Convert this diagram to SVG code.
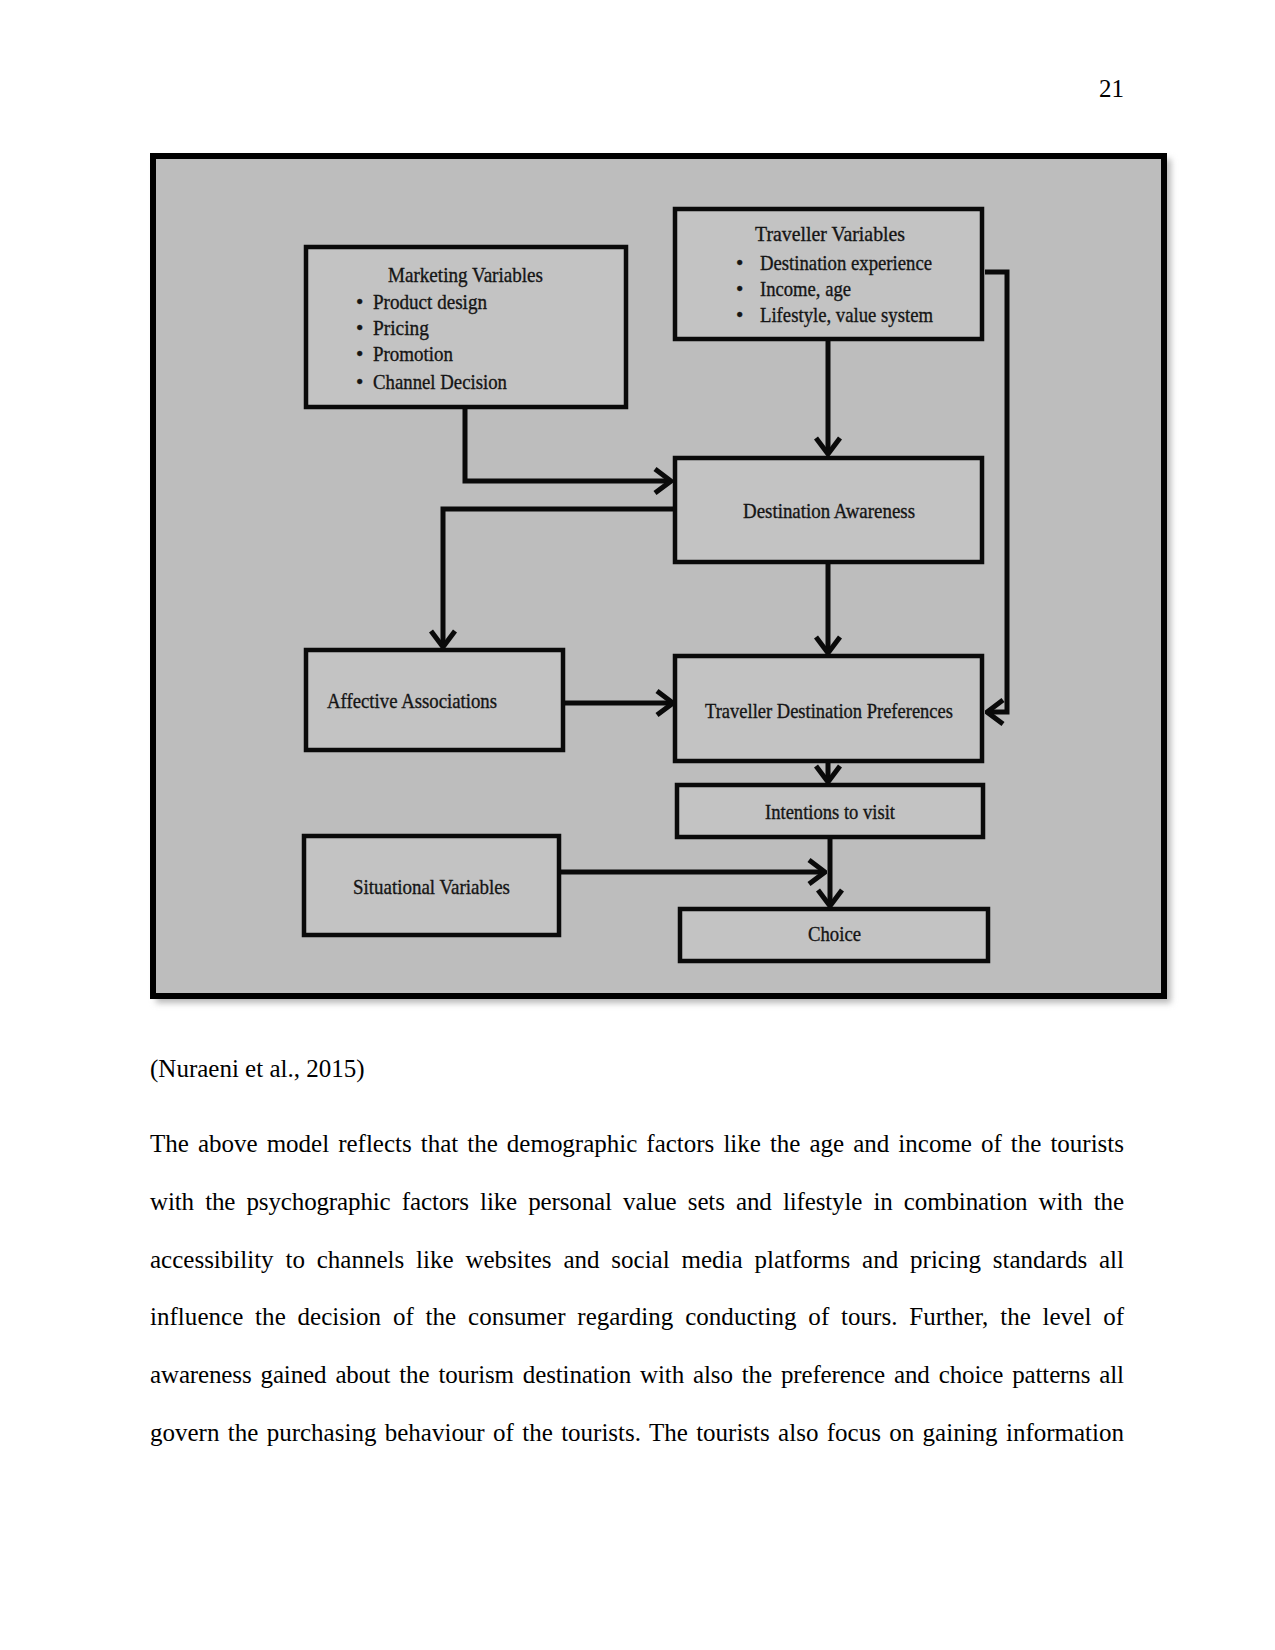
<svg xmlns="http://www.w3.org/2000/svg" width="1275" height="1650" viewBox="0 0 1275 1650">
<style>
.page{font-family:"Liberation Serif","Times New Roman",serif;font-size:25px;fill:#000}
.lbl{font-family:"Liberation Serif","Times New Roman",serif;font-size:21px;fill:#151515;stroke:#151515;stroke-width:0.35}
.box{fill:#c3c3c3;stroke:#0a0a0a;stroke-width:4.5}
.con{fill:none;stroke:#0a0a0a;stroke-width:5}
</style>
<defs>
<marker id="arr" markerUnits="userSpaceOnUse" viewBox="-20 -15 22 30" refX="0" refY="0" markerWidth="22" markerHeight="30" orient="auto">
<path d="M-16,-12 L0,0 L-16,12" fill="none" stroke="#0a0a0a" stroke-width="5"/>
</marker>
<filter id="sh" x="-5%" y="-5%" width="110%" height="110%"><feGaussianBlur stdDeviation="3"/></filter>
</defs>
<rect width="1275" height="1650" fill="#ffffff"/>
<text class="page" x="1124" y="97" text-anchor="end">21</text>
<g id="frame">
<rect x="156" y="159" width="1015" height="844" fill="#b8b8b8" filter="url(#sh)"/>
<rect x="153" y="156" width="1011" height="840" fill="#bdbdbd" stroke="#000" stroke-width="6"/>
</g>
<g id="connectors">
<polyline class="con" points="465,409 465,481 671,481" marker-end="url(#arr)"/>
<line class="con" x1="828" y1="341" x2="828" y2="454" marker-end="url(#arr)"/>
<polyline class="con" points="675,509 443,509 443,647" marker-end="url(#arr)"/>
<line class="con" x1="828" y1="563" x2="828" y2="653" marker-end="url(#arr)"/>
<polyline class="con" points="985,272 1007,272 1007,712 987,712" marker-end="url(#arr)"/>
<line class="con" x1="565" y1="703" x2="673" y2="703" marker-end="url(#arr)"/>
<line class="con" x1="828" y1="763" x2="828" y2="782" marker-end="url(#arr)"/>
<line class="con" x1="830" y1="839" x2="830" y2="906" marker-end="url(#arr)"/>
<line class="con" x1="561" y1="872" x2="825" y2="872" marker-end="url(#arr)"/>
</g>
<g id="marketing">
<rect class="box" x="306" y="247" width="320" height="160"/>
<text class="lbl" x="388" y="282" textLength="155" lengthAdjust="spacingAndGlyphs">Marketing Variables</text>
<text class="lbl" x="356" y="309">•</text><text class="lbl" x="373" y="309" textLength="114" lengthAdjust="spacingAndGlyphs">Product design</text>
<text class="lbl" x="356" y="335">•</text><text class="lbl" x="373" y="335" textLength="56" lengthAdjust="spacingAndGlyphs">Pricing</text>
<text class="lbl" x="356" y="361">•</text><text class="lbl" x="373" y="361" textLength="80" lengthAdjust="spacingAndGlyphs">Promotion</text>
<text class="lbl" x="356" y="389">•</text><text class="lbl" x="373" y="389" textLength="134" lengthAdjust="spacingAndGlyphs">Channel Decision</text>
</g>
<g id="traveller">
<rect class="box" x="675" y="209" width="307" height="130"/>
<text class="lbl" x="755" y="241" textLength="150" lengthAdjust="spacingAndGlyphs">Traveller  Variables</text>
<text class="lbl" x="736" y="270">•</text><text class="lbl" x="760" y="270" textLength="172" lengthAdjust="spacingAndGlyphs">Destination experience</text>
<text class="lbl" x="736" y="296">•</text><text class="lbl" x="760" y="296" textLength="91" lengthAdjust="spacingAndGlyphs">Income, age</text>
<text class="lbl" x="736" y="322">•</text><text class="lbl" x="760" y="322" textLength="173" lengthAdjust="spacingAndGlyphs">Lifestyle, value system</text>
</g>
<g id="awareness">
<rect class="box" x="675" y="458" width="307" height="104"/>
<text class="lbl" x="743" y="518" textLength="172" lengthAdjust="spacingAndGlyphs">Destination Awareness</text>
</g>
<g id="affective">
<rect class="box" x="306" y="650" width="257" height="100"/>
<text class="lbl" x="327" y="708" textLength="170" lengthAdjust="spacingAndGlyphs">Affective Associations</text>
</g>
<g id="preferences">
<rect class="box" x="675" y="656" width="307" height="105"/>
<text class="lbl" x="705" y="718" textLength="248" lengthAdjust="spacingAndGlyphs">Traveller Destination Preferences</text>
</g>
<g id="intentions">
<rect class="box" x="677" y="785" width="306" height="52"/>
<text class="lbl" x="765" y="819" textLength="130" lengthAdjust="spacingAndGlyphs">Intentions to visit</text>
</g>
<g id="situational">
<rect class="box" x="304" y="836" width="255" height="99"/>
<text class="lbl" x="353" y="894" textLength="157" lengthAdjust="spacingAndGlyphs">Situational Variables</text>
</g>
<g id="choice">
<rect class="box" x="680" y="909" width="308" height="52"/>
<text class="lbl" x="808" y="941" textLength="53" lengthAdjust="spacingAndGlyphs">Choice</text>
</g>
<text class="page" x="150" y="1077">(Nuraeni et al., 2015)</text>
<text class="page" x="150" y="1152" word-spacing="2.8" textLength="974" lengthAdjust="spacing">The above model reflects that the demographic factors like the age and income of the tourists</text>
<text class="page" x="150" y="1210" word-spacing="5.1" textLength="974" lengthAdjust="spacing">with the psychographic factors like personal value sets and lifestyle in combination with the</text>
<text class="page" x="150" y="1268" word-spacing="5.6" textLength="974" lengthAdjust="spacing">accessibility to channels like websites and social media platforms and pricing standards all</text>
<text class="page" x="150" y="1325" word-spacing="5.5" textLength="974" lengthAdjust="spacing">influence the decision of the consumer regarding conducting of tours. Further, the level of</text>
<text class="page" x="150" y="1383" word-spacing="2.9" textLength="974" lengthAdjust="spacing">awareness gained about the tourism destination with also the preference and choice patterns all</text>
<text class="page" x="150" y="1441" word-spacing="2.1" textLength="974" lengthAdjust="spacing">govern the purchasing behaviour of the tourists. The tourists also focus on gaining information</text>
</svg>
